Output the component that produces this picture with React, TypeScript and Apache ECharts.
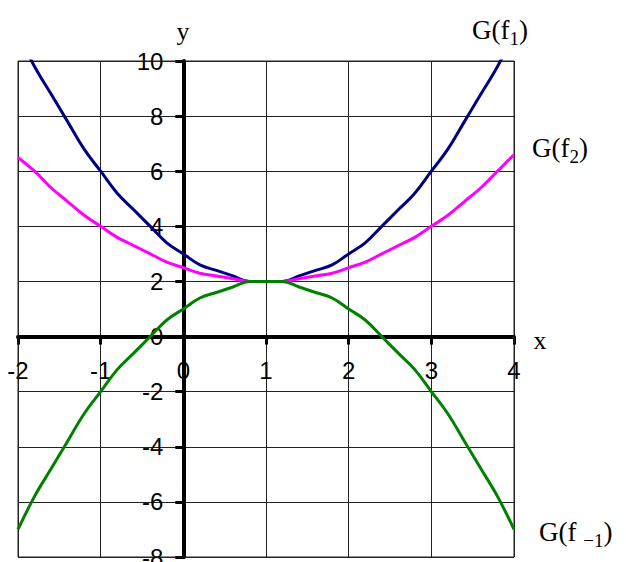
import React, { useEffect, useRef } from "react";
import * as echarts from "echarts";

const xs = [-2, -1.8, -1.6, -1.4, -1.2, -1, -0.8, -0.6, -0.4, -0.2, 0, 0.2, 0.4, 0.6, 0.8, 1, 1.2, 1.4, 1.6, 1.8, 2, 2.2, 2.4, 2.6, 2.8, 3, 3.2, 3.4, 3.6, 3.8, 4];
const f1 = [11, 9.8, 8.8, 7.8, 6.8, 6, 5.2, 4.6, 4, 3.4, 3, 2.6, 2.4, 2.2, 2, 2, 2, 2.2, 2.4, 2.6, 3, 3.4, 4, 4.6, 5.2, 6, 6.8, 7.8, 8.8, 9.8, 11];
const f2 = [6.5, 6.0, 5.4, 4.9, 4.4, 4, 3.6, 3.3, 3, 2.7, 2.5, 2.3, 2.2, 2.1, 2, 2, 2, 2.1, 2.2, 2.3, 2.5, 2.7, 3, 3.3, 3.6, 4, 4.4, 4.9, 5.4, 6, 6.6];
const fm1 = [-7, -5.8, -4.8, -3.8, -2.8, -2, -1.2, -0.6, 0, 0.6, 1, 1.4, 1.6, 1.8, 2, 2, 2, 1.8, 1.6, 1.4, 1, 0.6, 0, -0.6, -1.2, -2, -2.8, -3.8, -4.8, -5.8, -7];

const pair = (ys: number[]) => xs.map((x, i) => [x, ys[i]]);

const serif = "Liberation Serif";
const sans = "Liberation Sans";

const GRID_LEFT = 18;
const GRID_TOP = 61;
const GRID_W = 496;
const GRID_H = 496;
const X_MIN = -2, X_MAX = 4, Y_MIN = -8, Y_MAX = 10;

export default function App() {
  const ref = useRef<HTMLDivElement>(null);
  useEffect(() => {
    const chart = echarts.init(ref.current!, null, { renderer: "svg" });
    const labelRich = {
      s: { fontFamily: serif, fontSize: 19, verticalAlign: "bottom", padding: [0, 0, -4, 0], color: "#000" },
    };
    // axis offsets so the axes cross at the origin (inward offset is negative)
    const xAxisOffset = -((0 - Y_MIN) / (Y_MAX - Y_MIN)) * GRID_H;
    const yAxisOffset = -((0 - X_MIN) / (X_MAX - X_MIN)) * GRID_W;
    chart.setOption({
      animation: false,
      backgroundColor: "#fff",
      grid: { left: GRID_LEFT, top: GRID_TOP, width: GRID_W, height: GRID_H, show: false, containLabel: false, outerBoundsMode: "none" },
      xAxis: {
        type: "value",
        min: X_MIN,
        max: X_MAX,
        interval: 1,
        position: "bottom",
        offset: xAxisOffset,
        axisLine: { onZero: false, lineStyle: { color: "#000", width: 4 } },
        axisTick: { show: true, length: 8, lineStyle: { color: "#000", width: 3 } },
        axisLabel: { fontFamily: sans, fontSize: 24, color: "#000", margin: 22, showMinLabel: true, showMaxLabel: true, hideOverlap: false },
        splitLine: { show: true, lineStyle: { color: "#222", width: 1 } },
      },
      yAxis: {
        type: "value",
        min: Y_MIN,
        max: Y_MAX,
        interval: 2,
        position: "left",
        offset: yAxisOffset,
        axisLine: { onZero: false, lineStyle: { color: "#000", width: 4 } },
        axisTick: { show: true, length: 8, lineStyle: { color: "#000", width: 3 } },
        axisLabel: { fontFamily: sans, fontSize: 24, color: "#000", margin: 20, showMinLabel: true, showMaxLabel: true, hideOverlap: false },
        splitLine: { show: true, lineStyle: { color: "#222", width: 1 } },
      },
      series: [
        { type: "line", data: pair(f1), showSymbol: false, smooth: 0.4, lineStyle: { color: "#000080", width: 3 }, clip: true, z: 3 },
        { type: "line", data: pair(f2), showSymbol: false, smooth: 0.4, lineStyle: { color: "#FF00FF", width: 3 }, clip: true, z: 3 },
        { type: "line", data: pair(fm1), showSymbol: false, smooth: 0.4, lineStyle: { color: "#008000", width: 3 }, clip: true, z: 3 },
      ],
      graphic: [
        { type: "rect", shape: { x: GRID_LEFT, y: GRID_TOP, width: GRID_W, height: GRID_H }, style: { fill: "none", stroke: "#222", lineWidth: 1 }, silent: true, z: 1 },
        { type: "text", x: 183, y: 31, style: { text: "y", font: `26px "${serif}"`, fill: "#000", textAlign: "center", textVerticalAlign: "middle" } },
        { type: "text", x: 540, y: 340, style: { text: "x", font: `26px "${serif}"`, fill: "#000", textAlign: "center", textVerticalAlign: "middle" } },
        { type: "text", x: 472, y: 30, style: { text: "G(f{s|1})", fontFamily: serif, fontSize: 27, fill: "#000", textVerticalAlign: "middle", rich: labelRich } },
        { type: "text", x: 532, y: 148, style: { text: "G(f{s|2})", fontFamily: serif, fontSize: 27, fill: "#000", textVerticalAlign: "middle", rich: labelRich } },
        { type: "text", x: 539, y: 532, style: { text: "G(f {s|\u22121})", fontFamily: serif, fontSize: 27, fill: "#000", textVerticalAlign: "middle", rich: labelRich } },
      ],
    });
    return () => chart.dispose();
  }, []);
  return <div ref={ref} style={{ position: "fixed", left: 0, top: 0, width: 626, height: 562 }} />;
}
